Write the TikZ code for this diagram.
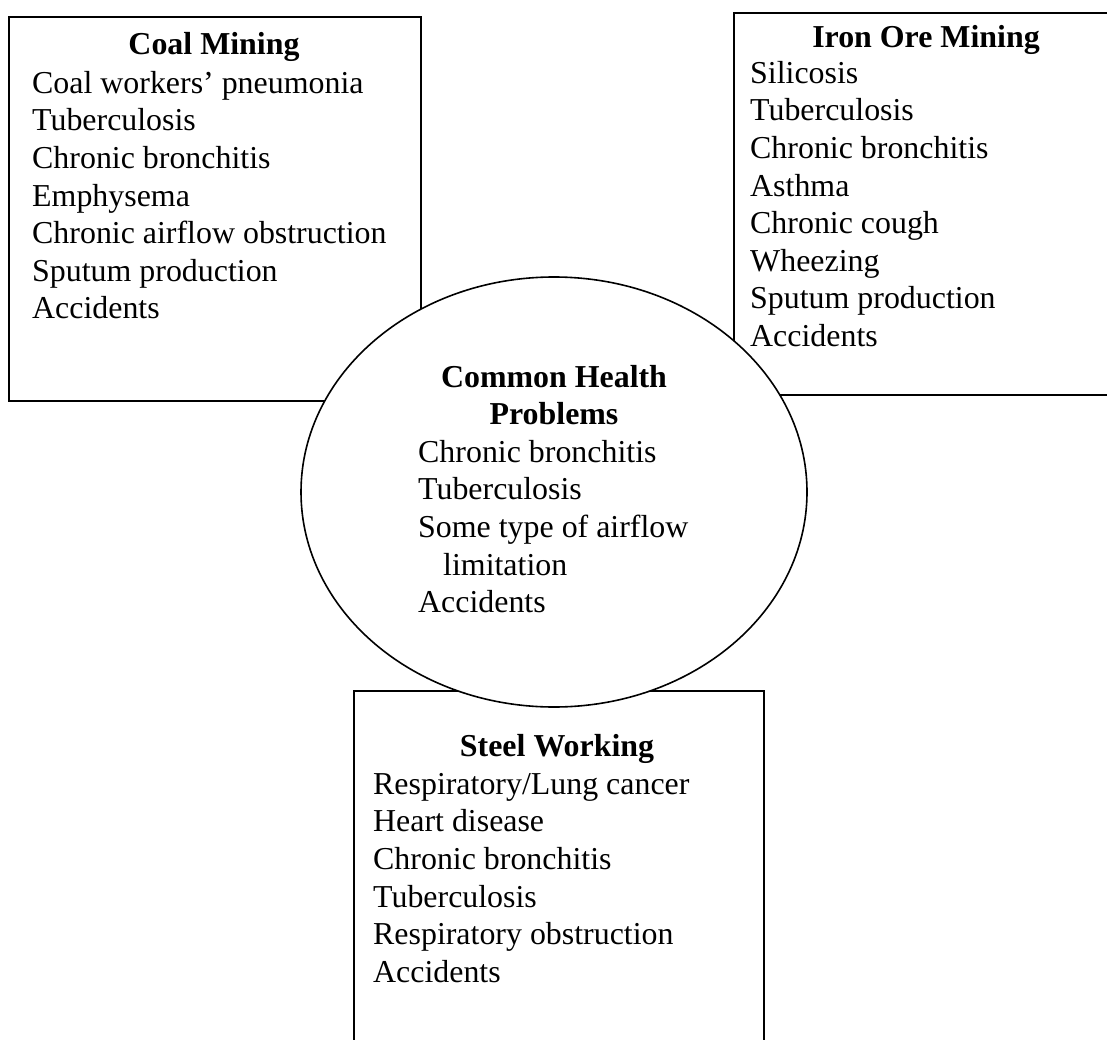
\documentclass[tikz,border=0pt]{standalone}
\usepackage{fontspec}
\setmainfont{Liberation Serif}
\usetikzlibrary{shapes.geometric}

\begin{document}
\begin{tikzpicture}[
  x=1pt, y=-1pt,
  font=\fontsize{31.9}{37.6}\selectfont,
  groupbox/.style={draw, line width=1.6pt, fill=white, inner sep=0pt, anchor=north west},
  header/.style={font=\fontsize{31.9}{37}\selectfont\bfseries, align=center, anchor=base, inner sep=0pt},
  items/.style={align=left, anchor=north west, inner sep=0pt},
  common/.style={draw, ellipse, line width=1.6pt, fill=white, inner sep=0pt, minimum width=506pt, minimum height=430pt}
]
\clip (0,0) rectangle (1107,1040);
% the three groups of workers
\node[groupbox, minimum width=412pt, minimum height=384pt] (coal) at (8,16) {};
\node[groupbox, minimum width=386pt, minimum height=382pt] (iron) at (733,12) {};
\node[groupbox, minimum width=410pt, minimum height=380pt] (steel) at (353,690) {};
% problems they share
\node[common] (shared) at (554,492) {};

\node[header] (coalhead) at (214,55) {Coal Mining};
\node[items] (coallist) at (32,71) {Coal workers' pneumonia\\Tuberculosis\\Chronic bronchitis\\Emphysema\\Chronic airflow obstruction\\Sputum production\\Accidents};

\node[header] (ironhead) at (926,48) {Iron Ore Mining};
\node[items] (ironlist) at (750,61) {Silicosis\\Tuberculosis\\Chronic bronchitis\\Asthma\\Chronic cough\\Wheezing\\Sputum production\\Accidents};

\node[header] (sharedhead) at (554,424) {Common Health\\Problems};
\node[items] (sharedlist) at (418,440) {Chronic bronchitis\\Tuberculosis\\Some type of airflow\\\hspace*{25pt}limitation\\Accidents};

\node[header] (steelhead) at (557,756) {Steel Working};
\node[items] (steellist) at (373,773) {Respiratory/Lung cancer\\Heart disease\\Chronic bronchitis\\Tuberculosis\\Respiratory obstruction\\Accidents};
\end{tikzpicture}
\end{document}
